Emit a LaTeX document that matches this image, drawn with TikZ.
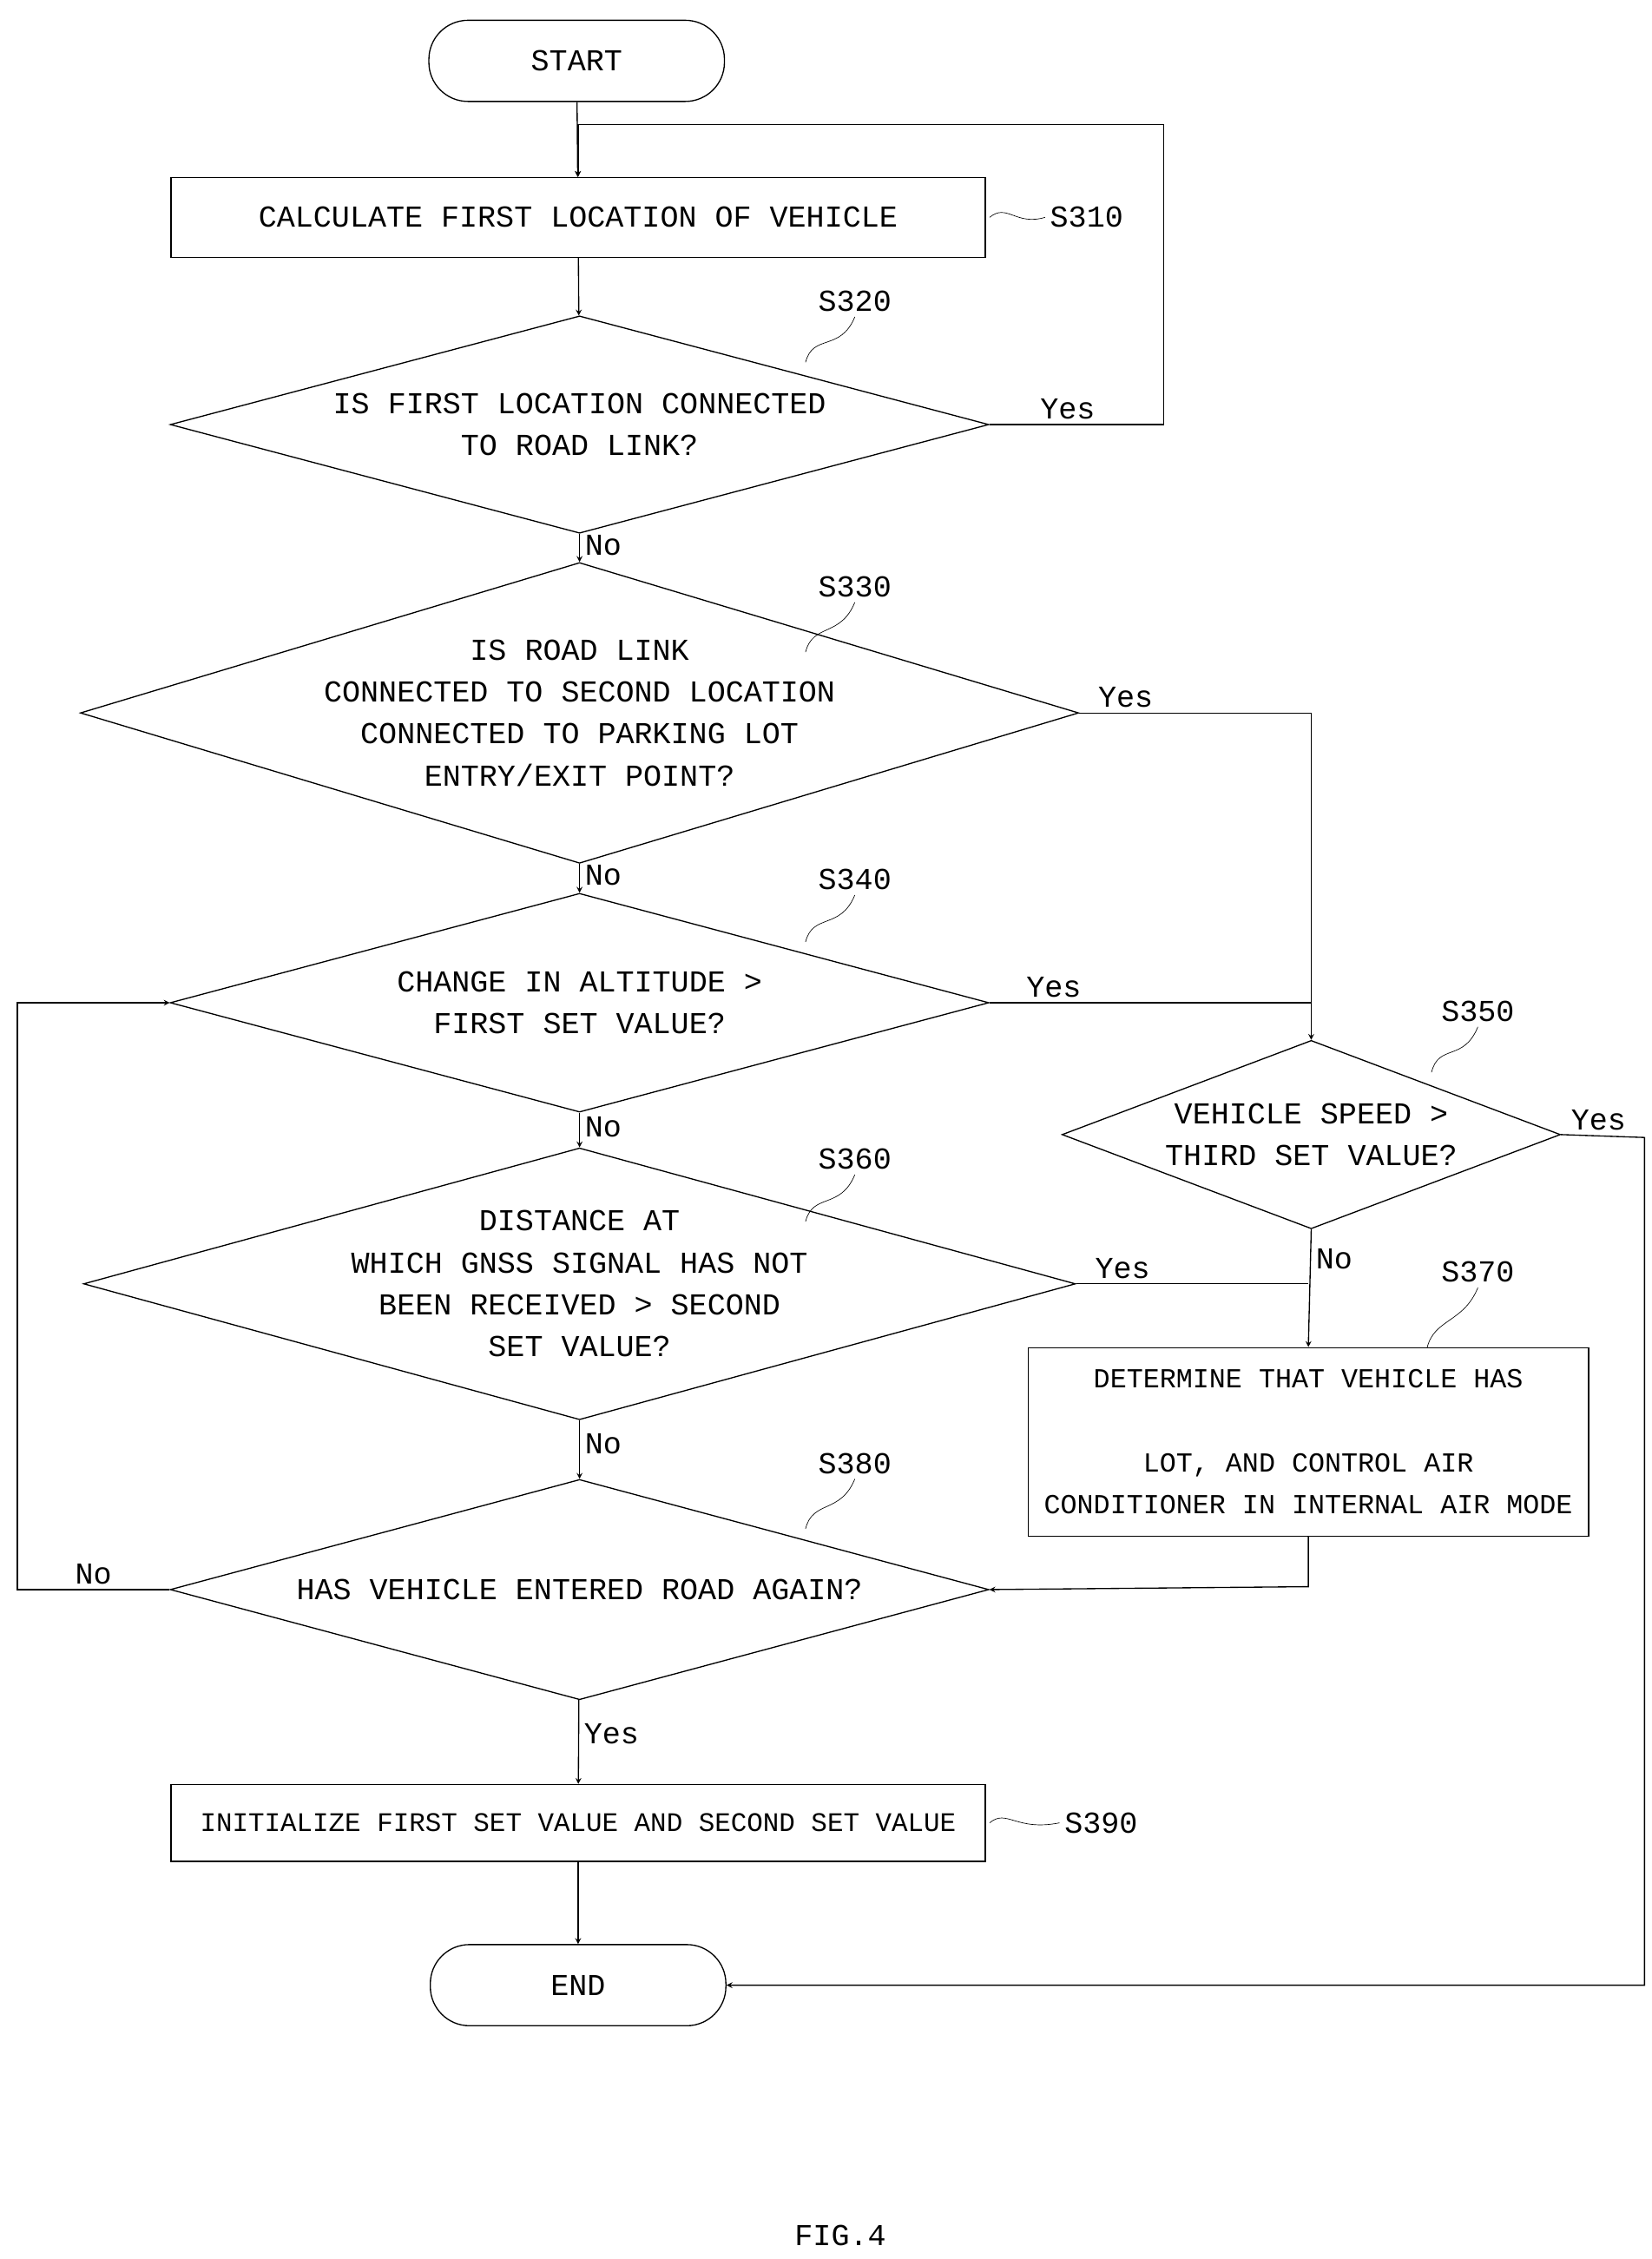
\documentclass[tikz,border=0pt]{standalone}
\usepackage{fontspec}
\setmainfont{Liberation Mono}
\usetikzlibrary{shapes.geometric}

\tikzset{
  action/.style={draw, thick, minimum width=562pt, minimum height=55pt, font=\fontsize{21}{25}\selectfont},
  test/.style={draw, thick, diamond, inner sep=0pt, minimum width=565pt, shape aspect=#1, font=\fontsize{21}{29}\selectfont, align=center},
  term/.style={draw, thick, rounded corners=27pt, minimum width=204pt, minimum height=56pt, font=\fontsize{21}{25}\selectfont},
  flow/.style={thick, -stealth},
  tag/.style={font=\fontsize{21}{25}\selectfont},
}

\begin{document}
\begin{tikzpicture}[x=1pt, y=-1pt]
  \useasboundingbox (0,0) rectangle (1140,1559);

  \node[term] (start) at (398,42) {START};
  \node[action] (s310) at (399,150) {CALCULATE FIRST LOCATION OF VEHICLE};
  \node[test=3.77, minimum height=150pt] (s320) at (400,293) {IS FIRST LOCATION CONNECTED\\TO ROAD LINK?};
  \node[test=3.32, minimum height=170pt] (s330) at (400,492) {IS ROAD LINK\\CONNECTED TO SECOND LOCATION\\CONNECTED TO PARKING LOT\\ENTRY/EXIT POINT?};
  \node[test=3.74, minimum height=151pt] (s340) at (400,692) {CHANGE IN ALTITUDE >\\FIRST SET VALUE?};
  \node[test=2.65, minimum width=344pt, minimum height=130pt] (s350) at (905,783) {VEHICLE SPEED >\\THIRD SET VALUE?};
  \node[test=3.65, minimum height=155pt] (s360) at (400,886) {DISTANCE AT\\WHICH GNSS SIGNAL HAS NOT\\BEEN RECEIVED > SECOND\\SET VALUE?};
  \node[draw, thick, minimum width=387pt, minimum height=130pt, inner sep=2pt, font=\fontsize{19}{29}\selectfont, align=center] (s370) at (903,995)
    {DETERMINE THAT VEHICLE HAS\\ \\LOT, AND CONTROL AIR\\CONDITIONER IN INTERNAL AIR MODE};
  \node[test=3.72, minimum height=152pt] (s380) at (400,1097) {HAS VEHICLE ENTERED ROAD AGAIN?};
  \node[action, minimum height=53pt, font=\fontsize{18.5}{22}\selectfont] (s390) at (399,1258) {INITIALIZE FIRST SET VALUE AND SECOND SET VALUE};
  \node[term] (end) at (399,1370) {END};
  \node[tag] (fig) at (580,1543) {FIG.4};

  % step labels
  \foreach \n/\lx/\ly/\ax/\ay in {s310/750/150/683/150, s390/760/1258/683/1258} {
    \node[tag] (l\n) at (\lx,\ly) {\MakeUppercase{\n}};
    \draw[thin] (\ax,\ay) .. controls (\ax+12,\ay-10) and (\ax+18,\ay+6) .. (l\n.west);
  }
  \foreach \n/\lx/\ly/\ax/\ay in {s320/590/208/556/250, s330/590/405/556/450, s340/590/607/556/650,
      s360/590/800/556/843, s380/590/1010/556/1055, s350/1020/698/988/740, s370/1020/878/985/930} {
    \node[tag] (l\n) at (\lx,\ly) {\MakeUppercase{\n}};
    \draw[thin] (\ax,\ay) .. controls (\ax+5,\ay-20) and (\lx-10,\ly+35) .. (l\n.south);
  }

  % main flow
  \draw[flow] (start) -- (s310);
  \draw[flow] (s310) -- (s320);
  \draw[flow] (s320) -- node[tag, right, pos=0.4] {No} (s330);
  \draw[flow] (s330) -- node[tag, right, pos=0.4] {No} (s340);
  \draw[flow] (s340) -- node[tag, right, pos=0.4] {No} (s360);
  \draw[flow] (s360) -- node[tag, right, pos=0.4] {No} (s380);
  \draw[flow] (s380) -- node[tag, right, pos=0.4] {Yes} (s390);
  \draw[flow] (s390) -- (end);

  % branches
  \coordinate (top310) at (399,86);
  \draw[flow] (s320.east) -- node[tag, above, pos=0.45] {Yes} (803,293) |- (top310) -- (s310.north);
  \draw[flow] (s330.east) -- node[tag, above, pos=0.2] {Yes} (s330.east -| s350.north) -- (s350.north);
  \draw[thick] (s340.east) -- node[tag, above, pos=0.2] {Yes} (s340.east -| s350.north);
  \draw[flow] (s350.south) -- node[tag, right, pos=0.25] {No} (s370.north);
  \draw[thick] (s360.east) -- node[tag, above, pos=0.2] {Yes} (s360.east -| s370.north);
  \draw[flow] (s350.east) -- node[tag, above, pos=0.45] {Yes} (1135,785) |- (end.east);
  \draw[flow] (s370.south) -- (903,1095) -- (s380.east);
  \draw[flow] (s380.west) -- node[tag, above, pos=0.5] {No} (12,1097) |- (s340.west);
\end{tikzpicture}
\end{document}
